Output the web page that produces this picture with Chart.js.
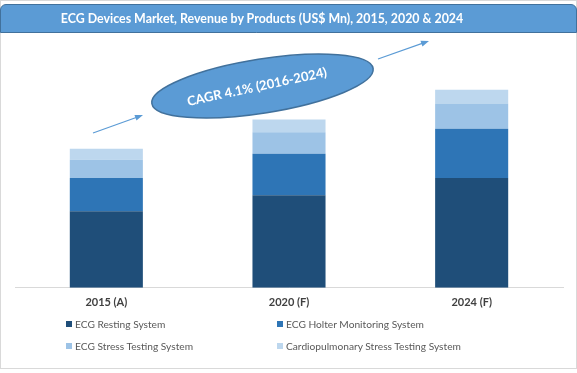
<!DOCTYPE html>
<html>
<head>
<meta charset="utf-8">
<script src="https://cdn.jsdelivr.net/npm/chart.js@4/dist/chart.umd.min.js"></script>
<style>
  html, body { margin: 0; padding: 0; background: #fff; }
  #wrap { position: relative; width: 577px; height: 373px; overflow: hidden; }
  #frame { position: absolute; left: 0; top: 0; width: 575px; height: 367px; border: 1px solid #d9d9d9; }
  #title {
    position: absolute; left: 0; top: 4px; width: 575px; height: 27px;
    background: #5b9bd5; border: 1px solid #41719c; border-radius: 6px 6px 0 0;
  }
  #title span {
    position: absolute; left: 261px; top: 0; transform: translateX(-50%);
    color: #fff; font: bold 12.4px Lato, sans-serif; line-height: 27px; white-space: nowrap;
  }
  canvas { position: absolute; left: 0; top: 0; }
  .lg { position: absolute; font: 10.2px Lato, sans-serif; color: #595959; line-height: 14px; white-space: nowrap; }
  .lg i { position: absolute; left: -9px; top: 4px; width: 6px; height: 6px; }
</style>
</head>
<body>
<div id="wrap">
  <div id="frame"></div>
  <canvas id="c" width="577" height="373"></canvas>
  <div id="title"><span>ECG Devices Market, Revenue by Products (US$ Mn), 2015, 2020 &amp; 2024</span></div>
  <div id="legend"></div>
</div>
<script>
// categories and series
const years = ["2015 (A)", "2020 (F)", "2024 (F)"];
const seriesNames = [
  "ECG Resting System",
  "ECG Holter Monitoring System",
  "ECG Stress Testing System",
  "Cardiopulmonary Stress Testing System",
];
const resting = [76, 92, 109];
const holter = [33, 41, 49];
const stress = [18, 21.5, 25];
const cardio = [11, 12.5, 13.5];
const colors = ["#1f4e79", "#2e75b6", "#9dc3e6", "#bdd7ee"];
const cagrText = "CAGR 4.1% (2016-2024)";

// legend, two columns
const legendPos = [[75, 317], [286, 317], [75, 339], [286, 339]];
const legendEl = document.getElementById("legend");
seriesNames.forEach((name, i) => {
  const d = document.createElement("div");
  d.className = "lg";
  d.style.left = legendPos[i][0] + "px";
  d.style.top = legendPos[i][1] + "px";
  d.innerHTML = `<i style="background:${colors[i]}"></i>${name}`;
  legendEl.appendChild(d);
});

// arrow helper
function arrow(ctx, x1, y1, x2, y2) {
  const a = Math.atan2(y2 - y1, x2 - x1);
  ctx.beginPath();
  ctx.moveTo(x1, y1);
  ctx.lineTo(x2 - 5 * Math.cos(a), y2 - 5 * Math.sin(a));
  ctx.stroke();
  ctx.beginPath();
  ctx.moveTo(x2, y2);
  ctx.lineTo(x2 - 8 * Math.cos(a) + 3 * Math.sin(a), y2 - 8 * Math.sin(a) - 3 * Math.cos(a));
  ctx.lineTo(x2 - 8 * Math.cos(a) - 3 * Math.sin(a), y2 - 8 * Math.sin(a) + 3 * Math.cos(a));
  ctx.closePath();
  ctx.fill();
}

// CAGR bubble + arrows
const cagrPlugin = {
  id: "cagr",
  afterDraw(chart) {
    const ctx = chart.ctx;
    ctx.save();
    ctx.strokeStyle = "#5b9bd5";
    ctx.fillStyle = "#5b9bd5";
    ctx.lineWidth = 1.2;
    arrow(ctx, 93, 133, 143, 115);
    arrow(ctx, 378, 59, 429, 41);

    ctx.beginPath();
    ctx.ellipse(262.5, 86, 112, 27, -9 * Math.PI / 180, 0, Math.PI * 2);
    ctx.fillStyle = "#5b9bd5";
    ctx.fill();
    ctx.strokeStyle = "#41719c";
    ctx.lineWidth = 1.5;
    ctx.stroke();

    ctx.translate(257, 87);
    ctx.rotate(-12 * Math.PI / 180);
    ctx.fillStyle = "#fff";
    ctx.font = "bold 13px Lato, sans-serif";
    ctx.textAlign = "center";
    ctx.textBaseline = "middle";
    ctx.fillText(cagrText, 0, 0);
    ctx.restore();
  },
};

const data = [resting, holter, stress, cardio];

new Chart(document.getElementById("c"), {
  type: "bar",
  data: {
    labels: years,
    datasets: seriesNames.map((name, i) => ({
      label: name,
      data: data[i],
      backgroundColor: colors[i],
      barPercentage: 0.4,
      categoryPercentage: 1,
    })),
  },
  options: {
    responsive: false,
    animation: false,
    layout: { padding: { left: 15, right: 14, top: 40, bottom: 56 } },
    plugins: {
      legend: { display: false },
      tooltip: { enabled: false },
    },
    scales: {
      x: {
        stacked: true,
        grid: { display: false, drawTicks: false },
        border: { display: true, color: "#d9d9d9" },
        ticks: {
          color: "#404040",
          padding: 8,
          font: { family: "Lato", size: 11, weight: "bold" },
        },
      },
      y: {
        stacked: true,
        display: false,
        min: 0,
        max: 246,
      },
    },
  },
  plugins: [cagrPlugin],
});
</script>
</body>
</html>
